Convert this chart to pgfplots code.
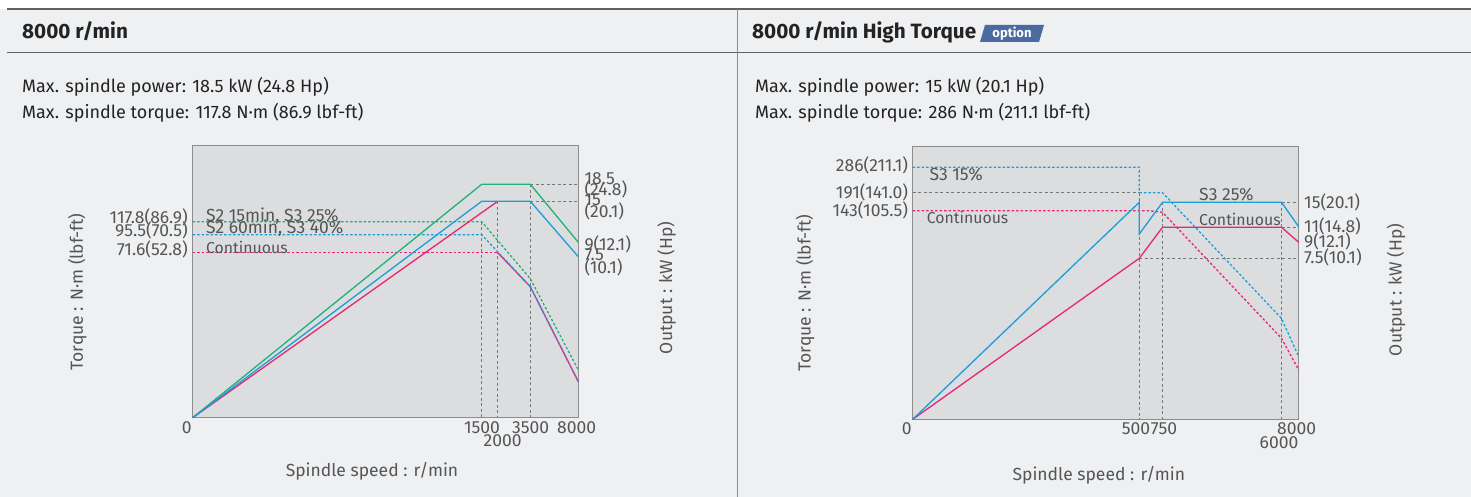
\documentclass[border=0pt]{standalone}
\usepackage{pgfplots}
\pgfplotsset{compat=1.18}
\usepackage{fontspec}
\setmainfont{Fira Sans}
\definecolor{pagebg}{RGB}{239,240,242}
\definecolor{plotbg}{RGB}{220,221,223}
\definecolor{framec}{RGB}{140,140,140}
\definecolor{gridc}{RGB}{120,120,120}
\definecolor{txtc}{RGB}{85,85,85}
\definecolor{headc}{RGB}{35,35,35}
\definecolor{cgreen}{RGB}{32,176,122}
\definecolor{cblue}{RGB}{28,157,218}
\definecolor{cpink}{RGB}{230,38,118}
\definecolor{badge}{RGB}{74,106,160}
\newcommand\chartf{\fontsize{17.5}{18}\selectfont}
\newcommand\contf{\fontsize{15.8}{17}\selectfont}
\newcommand\bodyf{\fontsize{18}{20}\selectfont}
\newcommand\headf{\fontsize{20.7}{22}\selectfont\bfseries}
\pgfplotsset{
  panel/.style={
    scale only axis, clip=false,
    axis background/.style={fill=plotbg},
    axis line style={draw=framec, line width=1.4pt},
    xtick=\empty, ytick=\empty,
    xmin=0, ymin=0,
  },
  gd/.style={gridc, line width=0.9pt, dash pattern=on 3pt off 2.5pt},
  cd/.style={line width=1.3pt, dash pattern=on 2.5pt off 2pt},
  cs/.style={line width=1.3pt},
}
\begin{document}
\begin{tikzpicture}[x=1pt,y=1pt]
% page
\fill[white] (0,0) rectangle (1471,497);
\fill[pagebg] (0,0) rectangle (1471,488);
\draw[gridc!80!black, line width=1.3pt] (7,488) -- (1471,488);
\draw[gridc!80!black, line width=1pt] (7,444) -- (1471,444);
\draw[framec, line width=1pt] (737,0) -- (737,488);
% headers
\node[anchor=base west, text=headc, inner sep=0pt] at (22,458) {\headf 8000 r/min};
\node[anchor=base west, text=headc, inner sep=0pt] at (752,458) {\headf 8000 r/min High Torque};
\fill[badge] (980,455) -- (985,472) -- (1044,472) -- (1039,455) -- cycle;
\node[text=white, inner sep=0pt] at (1012,463.5) {\fontsize{13}{14}\selectfont\bfseries option};
% body text
\node[anchor=west, text=headc, inner sep=0pt] at (22,410) {\bodyf Max. spindle power: 18.5 kW (24.8 Hp)};
\node[anchor=west, text=headc, inner sep=0pt] at (22,384) {\bodyf Max. spindle torque: 117.8 N·m (86.9 lbf-ft)};
\node[anchor=west, text=headc, inner sep=0pt] at (755,410) {\bodyf Max. spindle power: 15 kW (20.1 Hp)};
\node[anchor=west, text=headc, inner sep=0pt] at (755,384) {\bodyf Max. spindle torque: 286 N·m (211.1 lbf-ft)};
% axis titles
\begin{scope}[every node/.style={text=txtc, inner sep=0pt, font=\chartf}]
\node[rotate=90] at (77.3,205) {Torque : N·m (lbf-ft)};
\node[rotate=90] at (666.7,209) {Output : kW (Hp)};
\node at (372,25.3) {Spindle speed : r/min};
\node[rotate=90] at (805,204) {Torque : N·m (lbf-ft)};
\node[rotate=90] at (1396,207) {Output : kW (Hp)};
\node at (1098.8,21.3) {Spindle speed : r/min};
\end{scope}

% ---------------- left panel ----------------
\begin{axis}[panel, at={(192.7pt,79.3pt)}, anchor=south west,
  width=385.6pt, height=272pt, xmax=385.6, ymax=272]
% guide lines
\addplot[gd] coordinates {(289,196) (289,0)};
\addplot[gd] coordinates {(305,216.4) (305,0)};
\addplot[gd] coordinates {(337.6,233.4) (337.6,0)};
\addplot[gd] coordinates {(337.6,233.4) (385.6,233.4)};
\addplot[gd] coordinates {(337.6,216.4) (385.6,216.4)};
% torque (dashed)
\addplot[cd, cgreen] coordinates {(0,196) (289,196) (337.6,139) (385.6,47.7)};
\addplot[cd, cpink] coordinates {(0,165) (305,165)};
\addplot[cs, cpink] coordinates {(305,165) (337.6,131) (385.6,36)};
\addplot[cd, cblue] coordinates {(0,183) (289,183) (337.6,131) (385.6,36)};
% power (solid)
\addplot[cs, cgreen] coordinates {(0,0) (289,233.4) (337.6,233.4) (385.6,175.4)};
\addplot[cs, cpink] coordinates {(0,0) (305,216.4)};
\addplot[cs, cblue] coordinates {(0,0) (289,216.4) (337.6,216.4) (385.6,161)};
% labels
\begin{scope}[every node/.style={text=txtc, inner sep=0pt, font=\chartf}]
\node[anchor=west] at (axis cs:13.3,201.7) {S2 15min, S3 25\%};
\node[anchor=west] at (axis cs:13.3,189.4) {S2 60min, S3 40\%};
\node[anchor=west, font=\contf] at (axis cs:13.3,170.4) {Continuous};
\node[anchor=east] at (axis cs:-4.7,200.7) {117.8(86.9)};
\node[anchor=east] at (axis cs:-4.7,187) {95.5(70.5)};
\node[anchor=east] at (axis cs:-4.7,168.4) {71.6(52.8)};
\node[anchor=west] at (axis cs:391.6,238.7) {18.5};
\node[anchor=west] at (axis cs:391.6,228.7) {(24.8)};
\node[anchor=west] at (axis cs:391.6,217.7) {15};
\node[anchor=west] at (axis cs:391.6,206.7) {(20.1)};
\node[anchor=west] at (axis cs:391.6,173.7) {9(12.1)};
\node[anchor=west] at (axis cs:391.6,162.7) {7.5};
\node[anchor=west] at (axis cs:391.6,150) {(10.1)};
\node at (axis cs:-6,-10) {0};
\node at (axis cs:289.3,-10) {1500};
\node at (axis cs:310,-23.3) {2000};
\node at (axis cs:338,-10) {3500};
\node at (axis cs:384,-10) {8000};
\end{scope}
\end{axis}

% ---------------- right panel ----------------
\begin{axis}[panel, at={(912.7pt,77.7pt)}, anchor=south west,
  width=386pt, height=272.6pt, xmax=386, ymax=272.6]
\addplot[gd] coordinates {(0,226.6) (226.6,226.6)};
\addplot[gd] coordinates {(226.6,226.6) (226.6,0)};
\addplot[gd] coordinates {(249.8,217) (249.8,0)};
\addplot[gd] coordinates {(368.8,217) (368.8,0)};
\addplot[gd] coordinates {(368.8,217) (386,217)};
\addplot[gd] coordinates {(368.8,192) (386,192)};
\addplot[gd] coordinates {(226.6,161) (386,161)};
% torque (dashed)
\addplot[cd, cpink] coordinates {(0,208.6) (236,208.6) (249.8,207) (368.8,81) (386,49.3)};
\addplot[cd, cblue] coordinates {(0,252) (226.6,252) (226.6,226.6) (249.8,226.6) (368.8,100.9) (386,62.6)};
% power (solid)
\addplot[cs, cpink] coordinates {(0,0) (226.6,161) (249.8,192) (368.8,192) (386,177)};
\addplot[cs, cblue] coordinates {(0,0) (226.6,217) (226.6,185.3) (249.8,217) (368.8,217) (386,192.6)};
\begin{scope}[every node/.style={text=txtc, inner sep=0pt, font=\chartf}]
\node[anchor=west] at (axis cs:16.6,244.6) {S3 15\%};
\node[anchor=west, font=\contf] at (axis cs:14,202) {Continuous};
\node[anchor=west] at (axis cs:286.3,225) {S3 25\%};
\node[anchor=west, font=\contf] at (axis cs:286.3,200) {Continuous};
\node[anchor=east] at (axis cs:-4.4,254.3) {286(211.1)};
\node[anchor=east] at (axis cs:-4.4,226.6) {191(141.0)};
\node[anchor=east] at (axis cs:-4.4,209.3) {143(105.5)};
\node[anchor=west] at (axis cs:391.3,217) {15(20.1)};
\node[anchor=west] at (axis cs:391.3,192.6) {11(14.8)};
\node[anchor=west] at (axis cs:391.3,177.6) {9(12.1)};
\node[anchor=west] at (axis cs:391.3,162) {7.5(10.1)};
\node at (axis cs:-6,-9.4) {0};
\node at (axis cs:223.3,-9.4) {500};
\node at (axis cs:251.3,-9.4) {750};
\node at (axis cs:384,-9.4) {8000};
\node at (axis cs:366.3,-23.4) {6000};
\end{scope}
\end{axis}
\pgfresetboundingbox
\useasboundingbox (0,0) rectangle (1471,497);
\end{tikzpicture}
\end{document}
